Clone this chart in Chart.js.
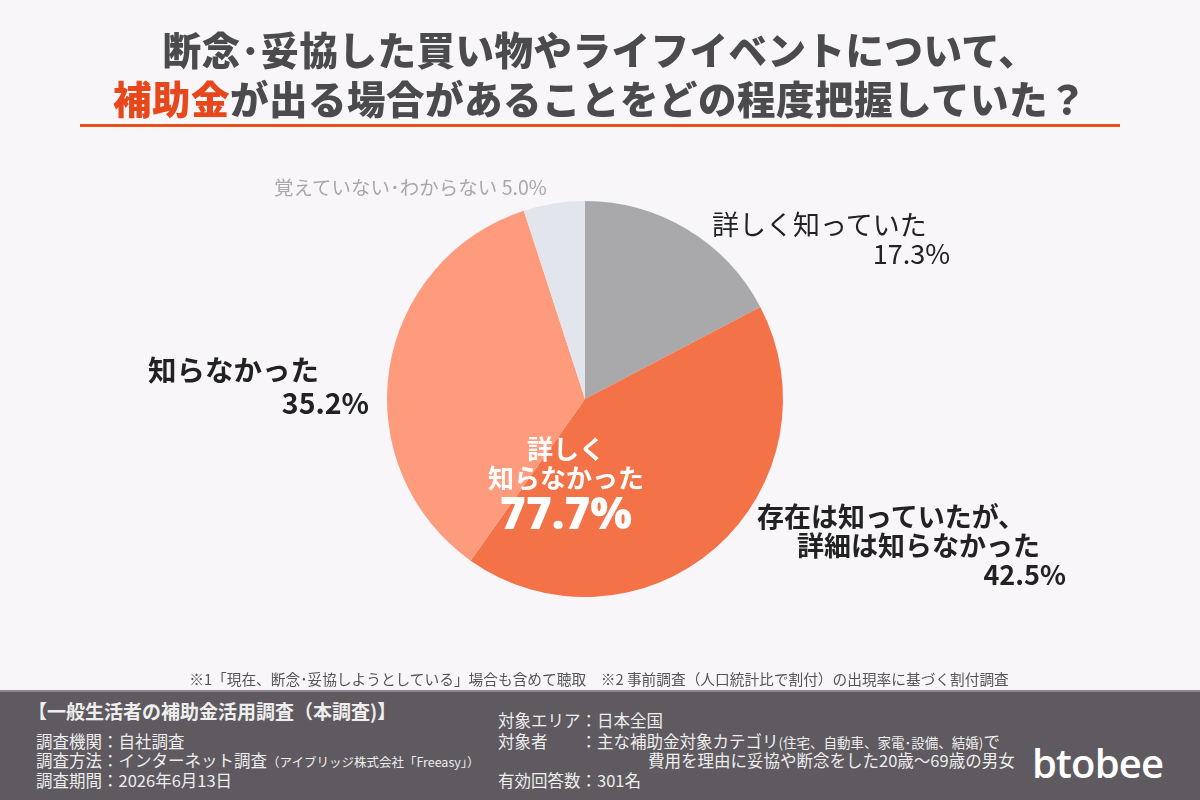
<!DOCTYPE html>
<html><head><meta charset="utf-8">
<script src="https://cdn.jsdelivr.net/npm/chart.js@4.4.1/dist/chart.umd.min.js"></script>
<style>
html,body{margin:0;padding:0;}
body{width:1200px;height:800px;background:#f8f6f9;position:relative;overflow:hidden;font-family:"Noto Sans CJK JP","Noto Sans",sans-serif;}
#c{position:absolute;left:0;top:0;}
.t{position:absolute;white-space:nowrap;}
.title{left:0;width:1200px;text-align:center;font-weight:900;font-size:38.5px;color:#4b4a4c;letter-spacing:0.5px;line-height:1;}
.title .hl{color:#e8471b;}
#rule{position:absolute;left:80px;top:124px;width:1040px;height:3px;background:#e8501c;}
.lab{font-size:27px;color:#222;line-height:1;}
.lab.b{font-weight:700;}
#footer{position:absolute;left:0;top:690px;width:1200px;height:110px;background:#5e5a5f;border-top:2px solid #8a878b;box-sizing:border-box;}
.f{color:#eeeeee;font-size:16.5px;line-height:1;}
</style></head>
<body>
<canvas id="c" width="1200" height="800"></canvas>
<div class="t title" style="top:29px;">断念･妥協した買い物やライフイベントについて、</div>
<div class="t title" style="top:78px;"><span class="hl">補助金</span>が出る場合があることをどの程度把握していた？</div>
<div id="rule"></div>
<div id="labels"></div>
<div class="t" style="left:0;width:1198px;text-align:center;top:668px;font-size:14.7px;color:#555;">※1「現在、断念･妥協しようとしている」場合も含めて聴取　※2 事前調査（人口統計比で割付）の出現率に基づく割付調査</div>
<div id="footer"></div>
<div class="t f" style="left:28px;top:701px;font-size:19px;font-weight:700;">【一般生活者の補助金活用調査（本調査)】</div>
<div class="t f" style="left:36px;top:733px;">調査機関：自社調査</div>
<div class="t f" style="left:36px;top:752px;">調査方法：インターネット調査<span style="font-size:12.5px;">（アイブリッジ株式会社「Freeasy」）</span></div>
<div class="t f" style="left:36px;top:772px;">調査期間：2026年6月13日</div>
<div class="t f" style="left:498px;top:712px;">対象エリア：日本全国</div>
<div class="t f" style="left:498px;top:733px;">対象者　　：主な補助金対象カテゴリ<span style="font-size:13.5px;">(住宅、自動車、家電･設備、結婚)</span>で</div>
<div class="t f" style="left:648px;top:752px;">費用を理由に妥協や断念をした20歳〜69歳の男女</div>
<div class="t f" style="left:498px;top:772px;">有効回答数：301名</div>
<div class="t" style="left:1032px;top:743px;font-family:'Open Sans','Lato',sans-serif;font-size:40px;font-weight:600;color:#fff;line-height:1;letter-spacing:-0.8px;">btobee</div>
<script>
const categories = ["詳しく知っていた", "存在は知っていたが、詳細は知らなかった", "知らなかった", "覚えていない･わからない"];
const values = [17.3, 42.5, 35.2, 5.0];
const colors = ["#a9a8aa", "#f47248", "#fe9b7c", "#e3e5ec"];
const combinedLabel = ["詳しく", "知らなかった"];
const combinedValue = 77.7;

new Chart(document.getElementById('c'), {
  type: 'pie',
  data: { labels: categories, datasets: [{ data: values, backgroundColor: colors, borderWidth: 0 }] },
  options: {
    responsive: false, animation: false,
    layout: { padding: { left: 387, right: 417, top: 201, bottom: 203 } },
    plugins: { legend: { display: false }, tooltip: { enabled: false } }
  }
});

const labelDefs = [
  { lines: ["詳しく知っていた"], pct: values[0], x: 712, y: 210, pctRight: 950, bold: false, size: 27, step: 29 },
  { lines: ["存在は知っていたが、", "詳細は知らなかった"], pct: values[1], x: 757, y: 502, bold: true, pctRight: 1066, indent: [0, 40], size: 27, step: 29 },
  { lines: ["知らなかった"], pct: values[2], x: 148, y: 355, bold: true, pctRight: 369, size: 28.5, step: 33 }
];
const host = document.getElementById('labels');
function add(html, style, cls) {
  const d = document.createElement('div');
  d.className = 't ' + (cls || '');
  d.innerHTML = html; d.setAttribute('style', style);
  host.appendChild(d);
}
labelDefs.forEach(L => {
  let y = L.y;
  L.lines.forEach((ln, i) => {
    add(ln, `left:${L.x + (L.indent ? L.indent[i] : 0)}px;top:${y}px;font-size:${L.size}px;`, 'lab' + (L.bold ? ' b' : ''));
    y += L.step;
  });
  add(L.pct.toFixed(1) + '%', `left:0;width:${L.pctRight}px;text-align:right;top:${y}px;font-size:${L.size}px;`, 'lab' + (L.bold ? ' b' : ''));
});
add(categories[3] + ' ' + values[3].toFixed(1) + '%', 'left:274px;top:177px;font-size:19.5px;color:#a8a8ab;line-height:1;');
add(combinedLabel[0], 'left:466px;width:200px;text-align:center;top:435px;font-size:26px;font-weight:700;color:#fff;line-height:1;');
add(combinedLabel[1], 'left:466px;width:200px;text-align:center;top:464px;font-size:26px;font-weight:700;color:#fff;line-height:1;');
add(combinedValue.toFixed(1) + '%', 'left:466px;width:200px;text-align:center;top:490px;font-size:44px;font-weight:900;color:#fff;line-height:1;font-family:"Noto Sans","Noto Sans CJK JP",sans-serif;');
</script>
</body></html>
